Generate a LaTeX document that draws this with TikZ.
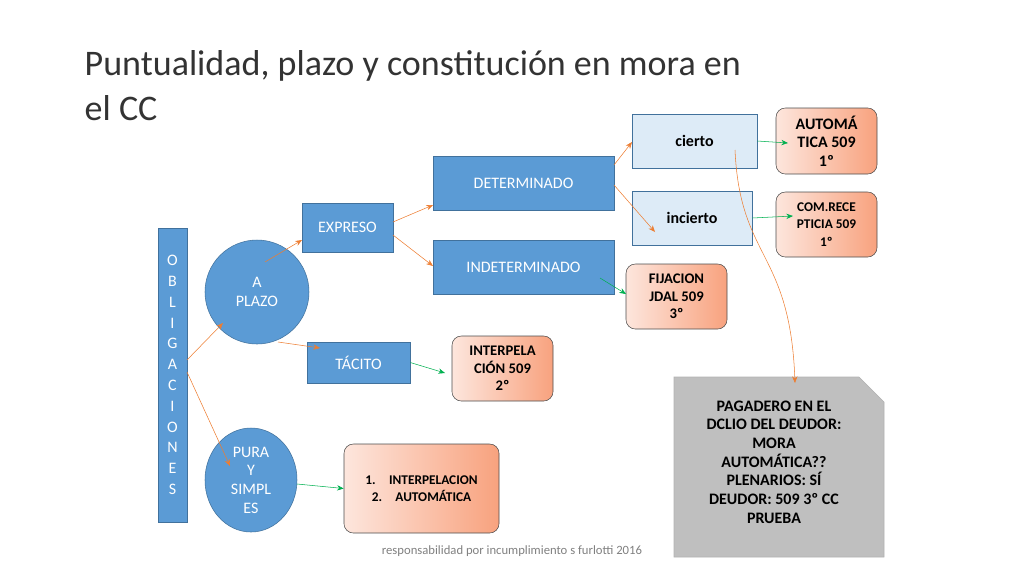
\documentclass[tikz,border=0pt]{standalone}
\usepackage{fontspec}
\setmainfont{Carlito}
\usetikzlibrary{arrows.meta,shapes.geometric}
\definecolor{bl}{HTML}{5B9BD5}
\definecolor{bld}{HTML}{41719C}
\definecolor{lbl}{HTML}{DDEBF7}
\definecolor{org}{HTML}{ED7D31}
\definecolor{grn}{HTML}{00B050}
\definecolor{sal}{HTML}{F8A27E}
\definecolor{pnk}{HTML}{FDE6DD}
\begin{document}
\begin{tikzpicture}[x=0.75pt,y=-0.75pt,
 bbox/.style={draw=bld,fill=bl,text=white,font=\fontsize{12}{14}\selectfont,inner sep=0pt},
 lbox/.style={draw=bld,fill=lbl,text=black,font=\fontsize{12}{14}\selectfont\bfseries,inner sep=0pt},
 sbox/.style={draw=black!70,rounded corners=7pt,left color=pnk,right color=sal,font=\fontsize{11}{13}\selectfont\bfseries,align=center,inner sep=0pt},
 oa/.style={draw=org,thin,-{Stealth[length=5pt,width=4pt]}},
 ga/.style={draw=grn,thin,-{Stealth[length=5pt,width=4pt]}}]
\useasboundingbox (0,0) rectangle (1024,576);
\node[anchor=base west,font=\fontsize{27}{32}\selectfont,text=black!80] (t1) at (80,75) {Puntualidad, plazo y constitución en mora en};
\node[anchor=base west,font=\fontsize{27}{32}\selectfont,text=black!80] (t2) at (80,120) {el CC};
\node[bbox,minimum width=21.75pt,minimum height=220.5pt,align=center,font=\fontsize{12}{15.6}\selectfont] (ob) at (172.5,375) {O\\B\\L\\I\\G\\A\\C\\I\\O\\N\\E\\S};
\node[bbox,circle,minimum size=78pt,align=center] (ap) at (257,292) {A\\PLAZO};
\node[bbox,ellipse,minimum width=69pt,minimum height=78pt,align=center] (ps) at (251,480) {PURA\\Y\\SIMPL\\ES};
\node[bbox,minimum width=68.25pt,minimum height=36.75pt] (ex) at (347.5,227.5) {EXPRESO};
\node[bbox,minimum width=135.75pt,minimum height=40.5pt] (de) at (523.5,183) {DETERMINADO};
\node[bbox,minimum width=135.75pt,minimum height=40.5pt] (in) at (523.5,267) {INDETERMINADO};
\node[bbox,minimum width=77.25pt,minimum height=30.75pt] (ta) at (358.5,362.5) {TÁCITO};
\node[lbox,minimum width=93.75pt,minimum height=40.5pt] (ci) at (694.5,141) {cierto};
\node[lbox,minimum width=90pt,minimum height=40.5pt] (ic) at (692,218) {incierto};
\node[sbox,minimum width=75.75pt,minimum height=49.5pt,font=\fontsize{12}{14}\selectfont\bfseries] (au) at (826.5,141) {AUTOMÁ\\TICA 509\\1º};
\node[sbox,minimum width=75.75pt,minimum height=48.75pt,font=\fontsize{10}{13}\selectfont\bfseries] (co) at (826.5,224.5) {COM.RECE\\PTICIA 509\\1º};
\node[sbox,minimum width=75.75pt,minimum height=48.75pt] (fi) at (676.5,296.5) {FIJACION\\JDAL 509\\3º};
\node[sbox,minimum width=75.75pt,minimum height=48.75pt] (ip) at (502.5,368.5) {INTERPELA\\CIÓN 509\\2º};
\node[sbox,minimum width=116.25pt,minimum height=66.75pt,font=\fontsize{10}{13}\selectfont\bfseries] (li) at (421.5,488.5) {1.\quad INTERPELACION\\2.\quad AUTOMÁTICA};
\fill[black!25,draw=black!30] (674,377) -- (859,377) -- (884,402) -- (884,557) -- (674,557) -- cycle;
\node[font=\fontsize{12}{14}\selectfont\bfseries,align=center] (gr) at (774,462) {PAGADERO EN EL\\DCLIO DEL DEUDOR:\\MORA\\AUTOMÁTICA??\\PLENARIOS: SÍ\\DEUDOR: 509 3º CC\\PRUEBA};
\coordinate (grt) at (795,383);
\node[font=\fontsize{9.5}{11}\selectfont,text=black!50] (ft) at (512,551) {responsabilidad por incumplimiento s furlotti 2016};
\draw[oa] (187,360) -- (223,323);
\draw[oa] (187,372) -- (230,466);
\draw[oa] (265,262) -- (302,240);
\draw[oa] (278,342) -- (320,348);
\draw[oa] (393,222) -- (433,205);
\draw[oa] (393,235) -- (433,266);
\draw[oa] (614,165) -- (632,142);
\draw[oa] (614,185) -- (655,232);
\draw[oa] (735,150) .. controls (740,260) and (790,250) .. (grt);
\draw[ga] (ci.east) -- (788,143);
\draw[ga] (ic.east) -- (793,216);
\draw[ga] (600,278) -- (626,294);
\draw[ga] (ta.east) -- (445,373);
\draw[ga] (297,484) -- (li.west);
\end{tikzpicture}
\end{document}
